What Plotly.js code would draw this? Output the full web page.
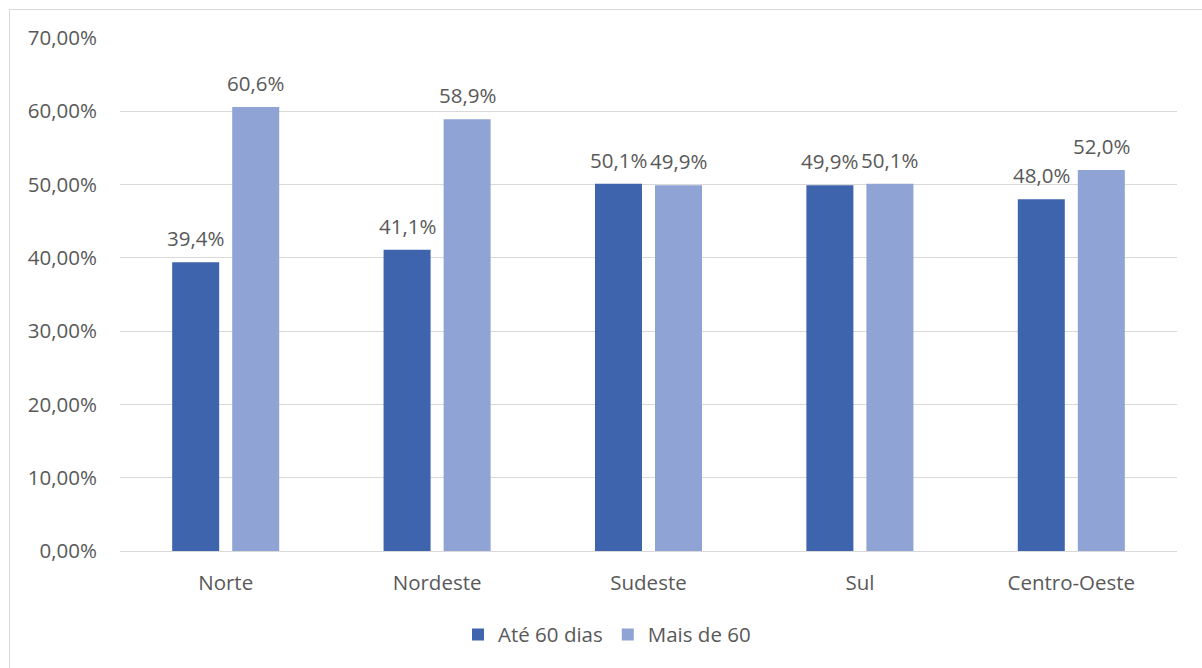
<!DOCTYPE html>
<html>
<head>
<meta charset="utf-8">
<script src="https://cdn.plot.ly/plotly-3.0.1.min.js"></script>
<style>
  html, body { margin: 0; padding: 0; background: #ffffff; overflow: hidden; }
  #frame { position: absolute; left: 9px; top: 9px; width: 1220px; height: 700px;
           border: 1px solid #d9d9d9; box-sizing: border-box; }
  #chart { position: absolute; left: 0; top: 0; width: 1202px; height: 668px; }
</style>
</head>
<body>
<div id="frame"></div>
<div id="chart"></div>
<script>
// Regiões e participação por prazo (%)
const regioes = ["Norte", "Nordeste", "Sudeste", "Sul", "Centro-Oeste"];
const ate60dias = [39.4, 41.1, 50.1, 49.9, 48.0];
const maisDe60 = [60.6, 58.9, 49.9, 50.1, 52.0];

const fonte = "Open Sans, Noto Sans, sans-serif";
const cinzaTexto = "#595959";
const tamanho = 20.5;

const traces = [
  {
    type: "bar", name: "Até 60 dias", x: regioes, y: ate60dias,
    marker: { color: "#3d64ad" }, hoverinfo: "skip"
  },
  {
    type: "bar", name: "Mais de 60", x: regioes, y: maisDe60,
    marker: { color: "#8fa4d4" }, hoverinfo: "skip"
  }
];

// Rótulos de valor acima de cada barra (deslocados para o centro de cada barra do grupo)
function rotulos(valores, deslocamento) {
  return regioes.map((r, i) => ({
    x: r, y: valores[i], xref: "x", yref: "y",
    text: valores[i].toFixed(1).replace(".", ",") + "%",
    showarrow: false, yanchor: "bottom", xanchor: "center",
    xshift: deslocamento, yshift: 8,
    font: { family: fonte, size: tamanho, color: cinzaTexto }
  }));
}

const layout = {
  width: 1202, height: 668,
  margin: { l: 120, r: 25, t: 38, b: 117 },
  paper_bgcolor: "rgba(0,0,0,0)", plot_bgcolor: "rgba(0,0,0,0)",
  separators: ",.",
  barmode: "group", bargap: 0.432, bargroupgap: 0.217,
  font: { family: fonte, size: tamanho, color: cinzaTexto },
  showlegend: true,
  legend: {
    orientation: "h", x: 0.505, xanchor: "center", xref: "container",
    y: 0.05, yanchor: "middle", yref: "container",
    font: { family: fonte, size: tamanho, color: cinzaTexto },
    itemwidth: 30, traceorder: "normal"
  },
  annotations: rotulos(ate60dias, -30).concat(rotulos(maisDe60, 30)),
  xaxis: {
    showgrid: false, showline: false, ticks: "",
    ticklabelstandoff: 17,
    tickfont: { family: fonte, size: tamanho, color: cinzaTexto }
  },
  yaxis: {
    range: [0, 70], dtick: 10, tickformat: ".2f", ticksuffix: "%",
    showgrid: true, gridcolor: "#d9d9d9", gridwidth: 1,
    zeroline: true, zerolinecolor: "#d9d9d9", zerolinewidth: 1,
    showline: false, ticks: "", ticklabelstandoff: 22,
    tickfont: { family: fonte, size: tamanho, color: cinzaTexto }
  }
};

Plotly.newPlot("chart", traces, layout, { staticPlot: true, displayModeBar: false });
</script>
</body>
</html>
